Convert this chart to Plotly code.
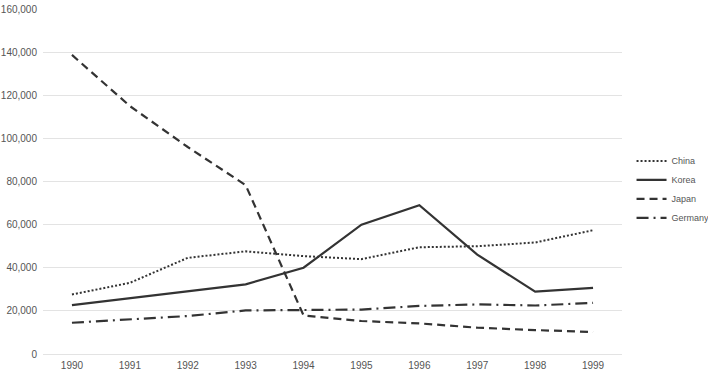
import plotly.graph_objects as go

years = ["1990", "1991", "1992", "1993", "1994", "1995", "1996", "1997", "1998", "1999"]
china = [27600, 33000, 44600, 47600, 45400, 44000, 49500, 50000, 51700, 57400]
korea = [22700, 26000, 29200, 32300, 40000, 60000, 69000, 46100, 28900, 30700]
japan = [138700, 115000, 96000, 78300, 17900, 15300, 14200, 12200, 11100, 10200]
germany = [14500, 16000, 17600, 20200, 20400, 20600, 22300, 23000, 22500, 23700]

series = [
    ("China", china, "2px,2px", 2),
    ("Korea", korea, "solid", 2.2),
    ("Japan", japan, "8px,5px", 2.2),
    ("Germany", germany, "12px,5px,2px,5px", 2.2),
]

fig = go.Figure()
for name, vals, dash, w in series:
    fig.add_trace(go.Scatter(
        x=years, y=vals, name=name, mode="lines",
        line=dict(color="#333333", width=w, dash=dash),
    ))

fig.update_layout(
    width=708, height=375,
    margin=dict(l=43, r=86, t=9, b=21),
    paper_bgcolor="white", plot_bgcolor="white",
    font=dict(family="Liberation Sans, Arial, sans-serif", size=10, color="#555555"),
    showlegend=True,
    legend=dict(xref="container", yref="container", x=0.892, y=0.495,
                xanchor="left", yanchor="middle",
                font=dict(size=9, color="#555555"), tracegroupgap=0,
                itemwidth=30, bgcolor="rgba(0,0,0,0)"),
    xaxis=dict(type="category", range=[-0.5, 9.5], showgrid=False, showline=False,
               zeroline=False, ticks="", automargin=False, ticklabelstandoff=4,
               tickfont=dict(size=10, color="#555555")),
    yaxis=dict(range=[0, 160000], dtick=20000, tickformat=",d", automargin=False,
               showgrid=True, gridcolor="#e3e3e3", gridwidth=1,
               zeroline=True, zerolinecolor="#e3e3e3", zerolinewidth=1,
               showline=False, ticks="", ticklabelstandoff=5,
               tickfont=dict(size=10, color="#555555")),
)

fig.write_html("out.html", config={"displayModeBar": False},
               post_script="document.body.style.margin='0';document.body.style.overflow='hidden';")
